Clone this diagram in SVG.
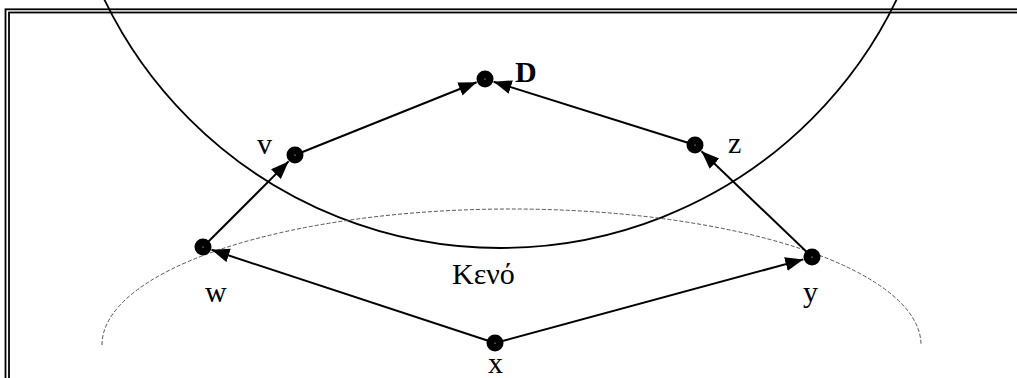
<svg xmlns="http://www.w3.org/2000/svg" width="1017" height="378" viewBox="0 0 1017 378">
  <defs>
    <style>
      .frame { fill: none; stroke: #000; stroke-width: 1.8; }
      .region { fill: none; stroke: #000; stroke-width: 1.8; }
      .gap { fill: none; stroke: #555; stroke-width: 1; stroke-dasharray: 4 2; }
      .edge { fill: none; stroke: #000; stroke-width: 2; marker-end: url(#arrow); }
      .dot { fill: #000; }
      .hole { fill: #fff; }
      .lbl { font-family: "Liberation Serif", "Times New Roman", serif; font-size: 30px; fill: #000; }
      .bold { font-weight: bold; }
    </style>
    <marker id="arrow" markerUnits="userSpaceOnUse" markerWidth="20" markerHeight="16" refX="18" refY="7" orient="auto">
      <path d="M0,0 L18,7 L0,14 z" fill="#000"/>
    </marker>
  </defs>
  <rect fill="#fff" x="0" y="0" width="1017" height="378"/>

  <g id="frame">
    <rect class="frame" x="5.5" y="9.3" width="1030" height="400"/>
    <rect class="frame" x="9" y="12.5" width="1030" height="400"/>
  </g>

  <g id="regions">
    <circle class="region" cx="500.5" cy="-192" r="440"/>
    <path class="gap" d="M102,345 A409.5,136 0 0 1 921,345"/>
  </g>

  <g id="connectors">
    <line class="edge" x1="495" y1="343" x2="211.5" y2="249.8"/>
    <line class="edge" x1="495" y1="343" x2="803.3" y2="259.4"/>
    <line class="edge" x1="203" y1="247" x2="288.6" y2="161.4"/>
    <line class="edge" x1="812" y1="257" x2="701.5" y2="151.2"/>
    <line class="edge" x1="295" y1="155" x2="476.6" y2="82.3"/>
    <line class="edge" x1="695" y1="145" x2="493.6" y2="81.7"/>
  </g>

  <g id="node-D">
    <circle class="dot" cx="485" cy="79" r="8.5"/>
    <circle class="hole" cx="485" cy="79" r="0.6"/>
    <text class="lbl bold" x="515" y="82">D</text>
  </g>
  <g id="node-v">
    <circle class="dot" cx="295" cy="155" r="8.5"/>
    <circle class="hole" cx="295" cy="155" r="0.6"/>
    <text class="lbl" x="257" y="154">v</text>
  </g>
  <g id="node-z">
    <circle class="dot" cx="695" cy="145" r="8.5"/>
    <circle class="hole" cx="695" cy="145" r="0.6"/>
    <text class="lbl" x="728" y="153">z</text>
  </g>
  <g id="node-w">
    <circle class="dot" cx="203" cy="247" r="8.5"/>
    <circle class="hole" cx="203" cy="247" r="0.6"/>
    <text class="lbl" x="205" y="302">w</text>
  </g>
  <g id="node-y">
    <circle class="dot" cx="812" cy="257" r="8.5"/>
    <circle class="hole" cx="812" cy="257" r="0.6"/>
    <text class="lbl" x="803" y="302">y</text>
  </g>
  <g id="node-x">
    <circle class="dot" cx="495" cy="343" r="8.5"/>
    <circle class="hole" cx="495" cy="343" r="0.6"/>
    <text class="lbl" x="488" y="373">x</text>
  </g>
  <g id="label-gap">
    <text class="lbl" x="452" y="284">Κενό</text>
  </g>
</svg>
